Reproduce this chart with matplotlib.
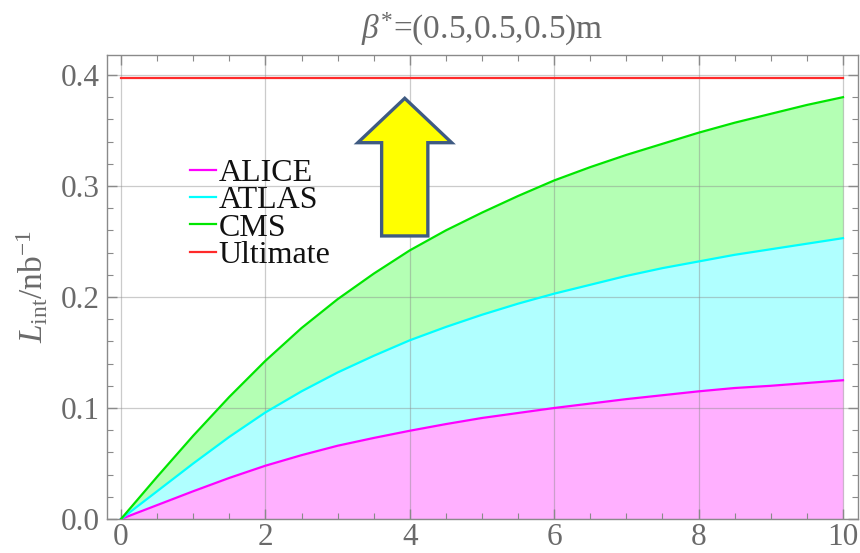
import numpy as np
import matplotlib
matplotlib.use("Agg")
import matplotlib.pyplot as plt
from matplotlib.patches import Polygon
from matplotlib.ticker import MultipleLocator

plt.rcParams['font.family'] = ['Liberation Serif', 'DejaVu Serif']
plt.rcParams['mathtext.fontset'] = 'custom'
plt.rcParams['mathtext.rm'] = 'Liberation Serif'
plt.rcParams['mathtext.it'] = 'Liberation Serif:italic'

# ---- data ----
x = [0, 0.5, 1, 1.5, 2, 2.5, 3, 3.5, 4, 4.5, 5, 5.5, 6, 6.5, 7, 7.5, 8, 8.5, 9, 9.5, 10]
cms = [0, 0.038, 0.075, 0.110, 0.1425, 0.172, 0.198, 0.221, 0.242, 0.260, 0.276,
       0.291, 0.305, 0.317, 0.328, 0.338, 0.348, 0.357, 0.365, 0.373, 0.380]
atlas = [0, 0.025, 0.050, 0.074, 0.096, 0.115, 0.132, 0.147, 0.161, 0.173, 0.184,
         0.194, 0.203, 0.211, 0.219, 0.226, 0.232, 0.238, 0.243, 0.248, 0.253]
alice = [0, 0.0125, 0.025, 0.037, 0.048, 0.0575, 0.066, 0.073, 0.0795, 0.0855, 0.091,
         0.0955, 0.100, 0.104, 0.108, 0.1115, 0.115, 0.118, 0.120, 0.1225, 0.125]
ultimate = 0.397
labels = ["ALICE", "ATLAS", "CMS", "Ultimate"]
xticks = [0, 2, 4, 6, 8, 10]
yticks = [0.0, 0.1, 0.2, 0.3, 0.4]
# decorative up-arrow outline (data coordinates)
arrow_x = [3.93, 4.58, 4.25, 4.25, 3.61, 3.61, 3.28]
arrow_y = [0.379, 0.339, 0.339, 0.255, 0.255, 0.339, 0.339]

fig = plt.figure(figsize=(8.6, 5.53), dpi=100)
ax = fig.add_axes([107/860, 34/553, (858-107)/860, (519-55)/553])

tick_gray = '#6a6a6a'
frame_gray = '#8a8a8a'

ax.fill_between(x, 0, alice, color='#ffb0ff', lw=0, zorder=1)
ax.fill_between(x, alice, atlas, color='#b0ffff', lw=0, zorder=1)
ax.fill_between(x, atlas, cms, color='#b4ffb4', lw=0, zorder=1)

l1, = ax.plot(x, alice, color='#ff00ff', lw=1.6, zorder=3, solid_joinstyle='round')
l2, = ax.plot(x, atlas, color='#00ffff', lw=1.6, zorder=3, solid_joinstyle='round')
l3, = ax.plot(x, cms, color='#00e600', lw=1.6, zorder=3, solid_joinstyle='round')
l4, = ax.plot([x[0], x[-1]], [ultimate, ultimate], color='#ff2a2a', lw=1.6, zorder=3)

ax.set_xlim(-0.194, 10.208)
ax.set_ylim(0, 0.418)
ax.set_xticks(xticks)
ax.set_yticks(yticks)
ax.set_xticklabels([str(v) for v in xticks])
ax.set_yticklabels([f"{v:.1f}" for v in yticks])
ax.xaxis.set_minor_locator(MultipleLocator(0.5))
ax.yaxis.set_minor_locator(MultipleLocator(0.02))
ax.tick_params(which='both', direction='in', top=True, right=True,
               color=frame_gray, labelcolor=tick_gray, labelsize=22.5)
ax.tick_params(which='major', length=7, width=1)
ax.tick_params(which='minor', length=4, width=0.8)
ax.tick_params(axis='x', pad=3)
ax.tick_params(axis='y', pad=5)
for s in ax.spines.values():
    s.set_color(frame_gray)
    s.set_linewidth(1.0)

ax.grid(True, which='major', color='#8c8c8c', alpha=0.45, lw=0.9, zorder=2)
ax.set_axisbelow(False)

arrow = Polygon(np.column_stack([arrow_x, arrow_y]), closed=True,
                facecolor='#ffff00', edgecolor='#3f5b82', lw=2.4, zorder=5)
ax.add_patch(arrow)

ax.set_title(r'$\beta^{*}$=(0.5,0.5,0.5)m', fontsize=24, color=tick_gray, pad=12)
ax.set_ylabel(r'$L_{\rm int}/{\rm nb}^{-1}$', fontsize=24, color=tick_gray, labelpad=8)

leg = ax.legend([l1, l2, l3, l4], labels, loc='upper left',
                bbox_to_anchor=(190/860, (553-159)/553), bbox_transform=fig.transFigure,
                frameon=False, fontsize=23, handlelength=0.8, handletextpad=0.1,
                labelspacing=-0.07, borderpad=0, borderaxespad=0)
for t in leg.get_texts():
    t.set_color('#111111')

fig.savefig('out.png', dpi=100)
